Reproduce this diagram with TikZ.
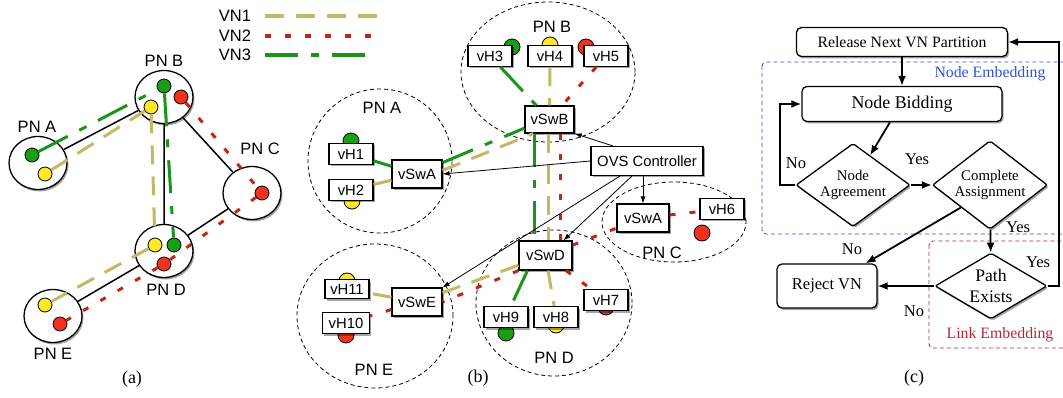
\documentclass[tikz,border=0pt]{standalone}
\usepackage{fontspec}
\setmainfont{Liberation Serif}
\newfontfamily\arialfont{Liberation Sans}
\usetikzlibrary{shapes.geometric,shadows,arrows.meta}

\definecolor{linkkhaki}{RGB}{196,184,102}
\definecolor{linkred}{RGB}{196,36,20}
\definecolor{linkgreen}{RGB}{28,148,28}
\definecolor{dotgreen}{RGB}{24,160,20}
\definecolor{dotyellow}{RGB}{255,232,40}
\definecolor{dotred}{RGB}{240,50,30}
\definecolor{nodeblue}{RGB}{50,80,220}
\definecolor{groupred}{RGB}{180,40,55}

\tikzset{
  softshadow/.style={drop shadow={shadow xshift=1.5pt,shadow yshift=-2pt,opacity=0.35,fill=black}},
  pn/.style={ellipse,draw,line width=1.3pt,fill=white,inner sep=0pt,minimum width=58pt,minimum height=53pt,softshadow},
  pnlbl/.style={font=\arialfont\fontsize{16.5}{19}\selectfont,inner sep=0pt},
  plink/.style={line width=1.5pt},
  hdot/.style={circle,draw,line width=0.8pt,inner sep=0pt,minimum size=14pt},
  bdot/.style={hdot,minimum size=16pt},
  vnone/.style={linkkhaki,line width=3pt,dash pattern=on 19pt off 12pt},
  vntwo/.style={linkred,line width=3pt,dash pattern=on 6pt off 14pt},
  vnthree/.style={linkgreen,line width=3pt,dash pattern=on 33pt off 13pt on 8pt off 13pt},
  region/.style={ellipse,draw,line width=0.8pt,dash pattern=on 4pt off 3pt,inner sep=0pt},
  hostbox/.style={rectangle,draw,line width=1.1pt,fill=white,inner sep=0pt,minimum width=44pt,minimum height=21pt,
    font=\arialfont\fontsize{14.8}{17}\selectfont,softshadow},
  swbox/.style={hostbox,minimum width=50pt,minimum height=28pt},
  ctrl/.style={line width=0.8pt,-{Latex[length=7pt,width=5pt]}},
  stepbox/.style={rectangle,rounded corners=5pt,draw,line width=1.3pt,fill=white,inner sep=0pt,softshadow},
  decide/.style={diamond,rounded corners=2pt,draw,line width=1.3pt,fill=white,inner sep=-3pt,align=center,softshadow},
  flow/.style={line width=1.8pt,-{Latex[length=10pt,width=8pt]}},
  flowlbl/.style={font=\fontsize{16.5}{19}\selectfont,inner sep=0pt},
  grouplbl/.style={font=\fontsize{15.8}{18}\selectfont,inner sep=0pt},
  nodegroup/.style={draw=nodeblue,line width=0.9pt,dash pattern=on 4pt off 3pt,rounded corners=4pt},
  linkgroup/.style={draw=groupred,line width=0.9pt,dash pattern=on 4pt off 3pt,rounded corners=4pt},
  capt/.style={font=\fontsize{18}{20}\selectfont,inner sep=0pt}
}

\begin{document}
\begin{tikzpicture}[x=1pt,y=-1pt]
\useasboundingbox (0,0) rectangle (1063,398);

% legend
\node[pnlbl] (lvn1) at (235,16) {VN1};
\node[pnlbl] (lvn2) at (235,36) {VN2};
\node[pnlbl] (lvn3) at (235,55) {VN3};
\coordinate (lvn1s) at (265,16); \coordinate (lvn1e) at (378,16);
\coordinate (lvn2s) at (265,36); \coordinate (lvn2e) at (378,36);
\coordinate (lvn3s) at (265,55); \coordinate (lvn3e) at (378,55);
\draw[vnone,line width=4pt] (lvn1s) -- (lvn1e);
\draw[vntwo,line width=4pt] (lvn2s) -- (lvn2e);
\draw[vnthree,line width=4pt] (lvn3s) -- (lvn3e);

% (a) physical network
\node[pn] (pa) at (38,163) {};
\node[pn] (pb) at (164,97) {};
\node[pn] (pc) at (252,193) {};
\node[pn] (pd) at (164,251) {};
\node[pn] (pe) at (53,316) {};
\draw[plink] (pa) -- (pb) (pb) -- (pc) (pb) -- (pd) (pc) -- (pd) (pd) -- (pe);
\node[pnlbl] (pa-l) at (37,127) {PN A};
\node[pnlbl] (pb-l) at (164,61) {PN B};
\node[pnlbl] (pc-l) at (260,149) {PN C};
\node[pnlbl] (pd-l) at (166,290) {PN D};
\node[pnlbl] (pe-l) at (53,354) {PN E};

\node[hdot,fill=dotgreen] (pa-g) at (32,155) {};
\node[hdot,fill=dotyellow] (pa-y) at (45,174) {};
\node[hdot,fill=dotgreen] (pb-g) at (164,86) {};
\node[hdot,fill=dotyellow] (pb-y) at (151,107) {};
\node[hdot,fill=dotred] (pb-r) at (181,97) {};
\node[hdot,fill=dotred] (pc-r) at (262,193) {};
\node[hdot,fill=dotyellow] (pd-y) at (155,245) {};
\node[hdot,fill=dotgreen] (pd-g) at (174,245) {};
\node[hdot,fill=dotred] (pd-r) at (164,264) {};
\node[hdot,fill=dotyellow] (pe-y) at (45,305) {};
\node[hdot,fill=dotred] (pe-r) at (60,324) {};

\draw[vnone] (pa-y) -- (pb-y) -- (pd-y) -- (pe-y);
\draw[vntwo] (pb-r) -- (pc-r) -- (pd-r) -- (pe-r);
\draw[vnthree] (pa-g) -- (pb-g) -- (pd-g);
\node[capt] (cap-a) at (132,379) {(a)};

% (b) virtual switches and hosts
\node[region,minimum width=174pt,minimum height=140pt] (rb) at (548,72) {};
\node[region,minimum width=144pt,minimum height=144pt] (ra) at (380,161) {};
\node[region,minimum width=144pt,minimum height=80pt] (rc) at (674,222) {};
\node[region,minimum width=156pt,minimum height=146pt] (rd) at (554,303) {};
\node[region,minimum width=156pt,minimum height=144pt] (re) at (375,316) {};
\node[pnlbl] (rb-l) at (552,27) {PN B};
\node[pnlbl] (ra-l) at (382,108) {PN A};
\node[pnlbl] (rc-l) at (662,253) {PN C};
\node[pnlbl] (rd-l) at (554,358) {PN D};
\node[pnlbl] (re-l) at (374,370) {PN E};

\node[bdot,fill=dotgreen] (vh1-d) at (351,141) {};
\node[bdot,fill=dotyellow] (vh2-d) at (352,201) {};
\node[bdot,fill=dotgreen] (vh3-d) at (512,47) {};
\node[bdot,fill=dotyellow] (vh4-d) at (550,45) {};
\node[bdot,fill=dotred] (vh5-d) at (586,47) {};
\node[bdot,fill=dotred] (vh6-d) at (702,233) {};
\node[bdot,fill=dotred] (vh7-d) at (606,307) {};
\node[bdot,fill=dotyellow] (vh8-d) at (556,325) {};
\node[bdot,fill=dotgreen] (vh9-d) at (506,333) {};
\node[bdot,fill=dotred] (vh10-d) at (346,335) {};
\node[bdot,fill=dotyellow] (vh11-d) at (347,281) {};

\node[hostbox] (vh1) at (351,154) {vH1};
\node[hostbox] (vh2) at (351,190) {vH2};
\node[hostbox] (vh3) at (490,56) {vH3};
\node[hostbox] (vh4) at (550,56) {vH4};
\node[hostbox] (vh5) at (606,56) {vH5};
\node[hostbox] (vh6) at (722,209) {vH6};
\node[hostbox] (vh7) at (606,300) {vH7};
\node[hostbox] (vh8) at (556,317) {vH8};
\node[hostbox] (vh9) at (506,317) {vH9};
\node[hostbox,minimum width=47pt] (vh10) at (346,323) {vH10};
\node[hostbox,minimum height=19pt] (vh11) at (347,289) {vH11};
\node[swbox] (vswa) at (417,174) {vSwA};
\node[swbox,minimum width=49pt,minimum height=27pt] (vswb) at (549.5,119.5) {vSwB};
\node[swbox,minimum width=52pt] (vswac) at (643,218) {vSwA};
\node[swbox,minimum width=53pt,minimum height=29pt] (vswd) at (545.5,255.5) {vSwD};
\node[swbox] (vswe) at (417,302) {vSwE};
\node[swbox,minimum width=112pt,minimum height=29pt] (ovs) at (647,161) {OVS Controller};

\draw[vnthree] (vh1) -- (vswa);
\draw[vnthree] (vswa.24) -- (vswb.199);
\draw[vnthree] (vh3) -- (vswb);
\draw[vnthree] ([xshift=-15.5pt]vswb.south) -- ([xshift=-11.5pt]vswd.north);
\draw[vnthree] ([xshift=9pt]vswd.south west) -- ([xshift=5pt]vh9.north);
\draw[vnone] (vh2) -- (vswa);
\draw[vnone] (vswa.8) -- (vswb.221);
\draw[vnone] (vh4) -- (vswb);
\draw[vnone] ([xshift=-1.5pt]vswb.south) -- ([xshift=2.5pt]vswd.north);
\draw[vnone] (vswd) -- (vh8);
\draw[vnone] (vswd) -- (vswe);
\draw[vnone] (vswe) -- (vh11);
\draw[vntwo] (vh5) -- (vswb);
\draw[vntwo] ([xshift=10.5pt]vswb.south) -- ([xshift=14.5pt]vswd.north);
\draw[vntwo] (vswd) -- (vswac);
\draw[vntwo] (vswac) -- (vh6);
\draw[vntwo] (vswd) -- (vh7);
\draw[vntwo] (vswd.south west) -- (vswe.east);
\draw[vntwo] (vswe) -- (vh10);

\draw[ctrl] ([xshift=-34pt]ovs.north) -- (vswb.south east);
\draw[ctrl] (ovs.west) -- (vswa.east);
\draw[ctrl] (ovs.south -| vswac.north) -- (vswac.north);
\draw[ctrl] ([xshift=-15pt]ovs.south) -- ([xshift=18pt]vswd.north);
\draw[ctrl] ([xshift=-27pt]ovs.south) -- (vswe.north east);
\node[capt] (cap-b) at (478,378) {(b)};

% (c) embedding flow
\draw[nodegroup] (762,62) rectangle (1075,234);
\draw[linkgroup] (929,241) rectangle (1075,348);
\node[grouplbl,text=nodeblue] (ne-l) at (990,74) {Node Embedding};
\node[grouplbl,text=groupred] (le-l) at (1000,335) {Link Embedding};

\node[stepbox,minimum width=211pt,minimum height=29pt,font=\fontsize{15.8}{18}\selectfont] (release) at (902,42) {Release Next VN Partition};
\node[stepbox,minimum width=200pt,minimum height=35pt,font=\fontsize{17.9}{20}\selectfont] (bid) at (902,104) {Node Bidding};
\node[decide,minimum width=114pt,minimum height=72pt,font=\fontsize{14.8}{16}\selectfont] (agree) at (853,185) {Node\\Agreement};
\node[decide,minimum width=115pt,minimum height=72pt,font=\fontsize{14.8}{16.5}\selectfont] (assign) at (990,185) {Complete\\Assignment};
\node[decide,minimum width=112pt,minimum height=66pt,font=\fontsize{17.6}{21}\selectfont] (path) at (991,286) {Path\\Exists};
\node[stepbox,minimum width=100pt,minimum height=44pt,font=\fontsize{16.5}{19}\selectfont] (reject) at (827,286) {Reject VN};

\draw[flow] (release) -- (bid);
\draw[flow] ([xshift=-12pt]bid.south) -- (agree.60);
\draw[flow] (agree) -- (assign);
\draw[flow] (agree.west) -- ++(-15,0) |- (bid.west);
\draw[flow] (assign.south west) -- ([xshift=-12pt]reject.north east);
\draw[flow] (assign) -- (path);
\draw[flow] (path) -- (reject);
\draw[flow] (path.east) -- ++(11,0) |- (release.east);

\node[flowlbl] (yes-agree) at (917,159) {Yes};
\node[flowlbl] (no-agree) at (796,163) {No};
\node[flowlbl] (no-assign) at (852,249) {No};
\node[flowlbl] (yes-assign) at (1018,227) {Yes};
\node[flowlbl] (yes-path) at (1038,262) {Yes};
\node[flowlbl] (no-path) at (914,311) {No};
\node[capt] (cap-c) at (914,378) {(c)};
\end{tikzpicture}
\end{document}
